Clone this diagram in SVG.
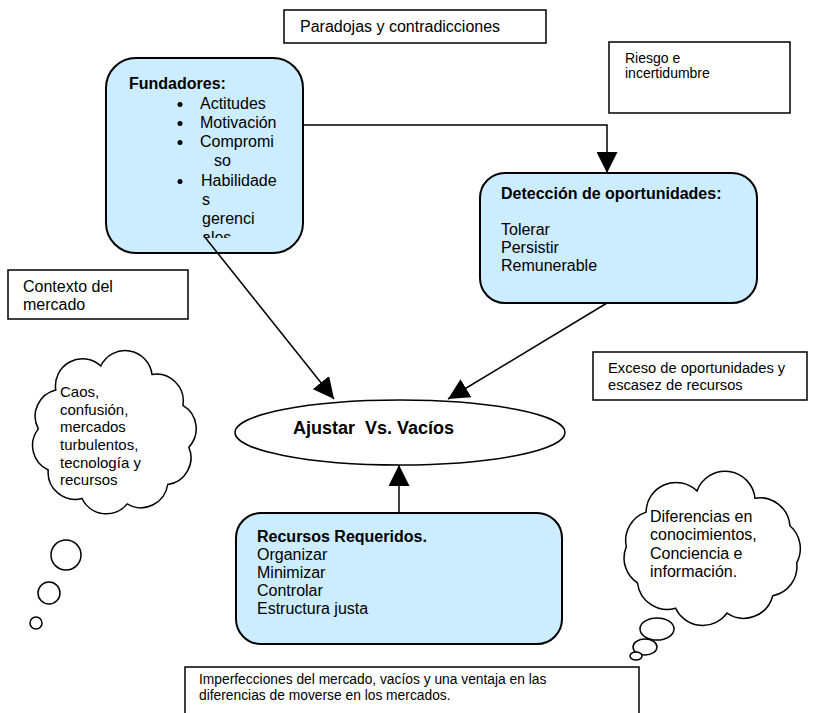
<svg xmlns="http://www.w3.org/2000/svg" width="813" height="713" viewBox="0 0 813 713">
  <style>
    text { font-family: "Liberation Sans", Arial, sans-serif; fill: #000; }
    .box { fill: #fff; stroke: #000; stroke-width: 1.5; }
    .node { fill: #CCECFF; stroke: #000; stroke-width: 2; }
    .cloud { fill: #fff; stroke: #000; stroke-width: 1.5; }
    .edge { fill: none; stroke: #000; stroke-width: 1.5; }
    .t14 { font-size: 14px; }
    .t15 { font-size: 15px; }
    .t16 { font-size: 16px; }
    .b { font-weight: bold; }
  </style>
  <defs>
    <marker id="arrow" viewBox="0 0 20 20" refX="20" refY="10" markerWidth="21" markerHeight="21" markerUnits="userSpaceOnUse" orient="auto">
      <path d="M0,0 L20,10 L0,20 Z" fill="#000"/>
    </marker>
    <clipPath id="fundClip">
      <rect x="106" y="58" width="197" height="180"/>
    </clipPath>
  </defs>
  <rect width="813" height="713" fill="#fff"/>

  <!-- labels -->
  <g id="paradojas">
    <rect class="box" x="284" y="10" width="262" height="33"/>
    <text class="t16" x="300" y="32">Paradojas y contradicciones</text>
  </g>
  <g id="riesgo">
    <rect class="box" x="609" y="42" width="181" height="71"/>
    <text class="t14" x="625" y="63">Riesgo e</text>
    <text class="t14" x="625" y="78">incertidumbre</text>
  </g>
  <g id="contexto">
    <rect class="box" x="8" y="270" width="180" height="49"/>
    <text class="t16" x="23" y="292">Contexto del</text>
    <text class="t16" x="23" y="310">mercado</text>
  </g>
  <g id="exceso">
    <rect class="box" x="593" y="352" width="214" height="48"/>
    <text x="608" y="373" font-size="14.7">Exceso de oportunidades y</text>
    <text x="608" y="390" font-size="14.7">escasez de recursos</text>
  </g>
  <g id="imperfecciones">
    <rect class="box" x="185" y="667" width="454" height="60"/>
    <text x="199" y="684" font-size="13.8">Imperfecciones del mercado, vacíos y una ventaja en las</text>
    <text x="199" y="700" font-size="13.8">diferencias de moverse en los mercados.</text>
  </g>

  <!-- thought clouds -->
  <g id="cloud-caos">
    <path class="cloud" d="M100.8,366 A27,27 0 0 1 152,374.4 A27,27 0 0 1 182.9,405.4 A27,27 0 0 1 188.8,447.2 A27,27 0 0 1 167.7,484.5 A27,27 0 0 1 127.2,503.9 A27,27 0 0 1 81.9,498.4 A27,27 0 0 1 48.2,470 A27,27 0 0 1 38.3,428.9 A27,27 0 0 1 55.8,390 A27,27 0 0 1 100.8,366 Z"/>
    <circle class="cloud" cx="66" cy="555" r="15"/>
    <circle class="cloud" cx="49" cy="593" r="11"/>
    <circle class="cloud" cx="36" cy="623" r="6"/>
    <text class="t15" x="60" y="397">Caos,</text>
    <text class="t15" x="60" y="415">confusión,</text>
    <text class="t15" x="60" y="432">mercados</text>
    <text class="t15" x="60" y="450">turbulentos,</text>
    <text class="t15" x="60" y="468">tecnología y</text>
    <text class="t15" x="60" y="485">recursos</text>
  </g>
  <g id="cloud-diferencias">
    <path class="cloud" d="M697,490.9 A30,30 0 0 1 755,498.3 A30,30 0 0 1 789.9,525.8 A30,30 0 0 1 796.7,562.8 A30,30 0 0 1 772.8,595.8 A30,30 0 0 1 727,613.1 A30,30 0 0 1 675.6,608.2 A30,30 0 0 1 637.5,583 A30,30 0 0 1 626.3,546.6 A30,30 0 0 1 646.1,512.1 A30,30 0 0 1 697,490.9 Z"/>
    <ellipse class="cloud" cx="657" cy="629" rx="17" ry="11"/>
    <ellipse class="cloud" cx="645" cy="647" rx="12" ry="8"/>
    <ellipse class="cloud" cx="636" cy="656" rx="6" ry="4"/>
    <text class="t16" x="650" y="522">Diferencias en</text>
    <text class="t16" x="650" y="540">conocimientos,</text>
    <text class="t16" x="650" y="559">Conciencia e</text>
    <text class="t16" x="650" y="577">información.</text>
  </g>

  <!-- main nodes -->
  <g id="fundadores">
    <rect class="node" x="106" y="58" width="197" height="195" rx="30" ry="30"/>
    <text class="t16 b" x="129" y="89">Fundadores:</text>
    <g clip-path="url(#fundClip)">
      <circle cx="180" cy="104.5" r="2.5"/>
      <circle cx="180" cy="123.5" r="2.5"/>
      <circle cx="180" cy="142.5" r="2.5"/>
      <circle cx="180" cy="181.5" r="2.5"/>
      <text class="t16" x="200" y="109">Actitudes</text>
      <text class="t16" x="200" y="128">Motivación</text>
      <text class="t16" x="200" y="147">Compromi</text>
      <text class="t16" x="214" y="166">so</text>
      <text class="t16" x="201" y="186">Habilidade</text>
      <text class="t16" x="202" y="205">s</text>
      <text class="t16" x="202" y="224">gerenci</text>
      <text class="t16" x="202" y="243">ales</text>
    </g>
  </g>
  <g id="deteccion">
    <rect class="node" x="480" y="173" width="277" height="130" rx="25" ry="25"/>
    <text class="t16 b" x="501" y="199">Detección de oportunidades:</text>
    <text class="t16" x="501" y="235">Tolerar</text>
    <text class="t16" x="501" y="253">Persistir</text>
    <text class="t16" x="501" y="271">Remunerable</text>
  </g>
  <g id="ajustar">
    <ellipse cx="400" cy="432.5" rx="165" ry="32.5" fill="#fff" stroke="#000" stroke-width="1.5"/>
    <text class="b" x="373.5" y="434" font-size="18" text-anchor="middle" xml:space="preserve">Ajustar  Vs. Vacíos</text>
  </g>
  <g id="recursos">
    <rect class="node" x="236" y="513" width="326" height="131" rx="25" ry="25"/>
    <text class="t16 b" x="257" y="542">Recursos Requeridos.</text>
    <text class="t16" x="257" y="560">Organizar</text>
    <text class="t16" x="257" y="578">Minimizar</text>
    <text class="t16" x="257" y="596">Controlar</text>
    <text class="t16" x="257" y="614">Estructura justa</text>
  </g>

  <!-- connectors -->
  <g id="connectors">
    <path class="edge" d="M303,125 H607 V173" marker-end="url(#arrow)"/>
    <path class="edge" d="M204,236 L334,399" marker-end="url(#arrow)"/>
    <path class="edge" d="M607,303 L448,399" marker-end="url(#arrow)"/>
    <path class="edge" d="M399,513 V465" marker-end="url(#arrow)"/>
  </g>
</svg>
